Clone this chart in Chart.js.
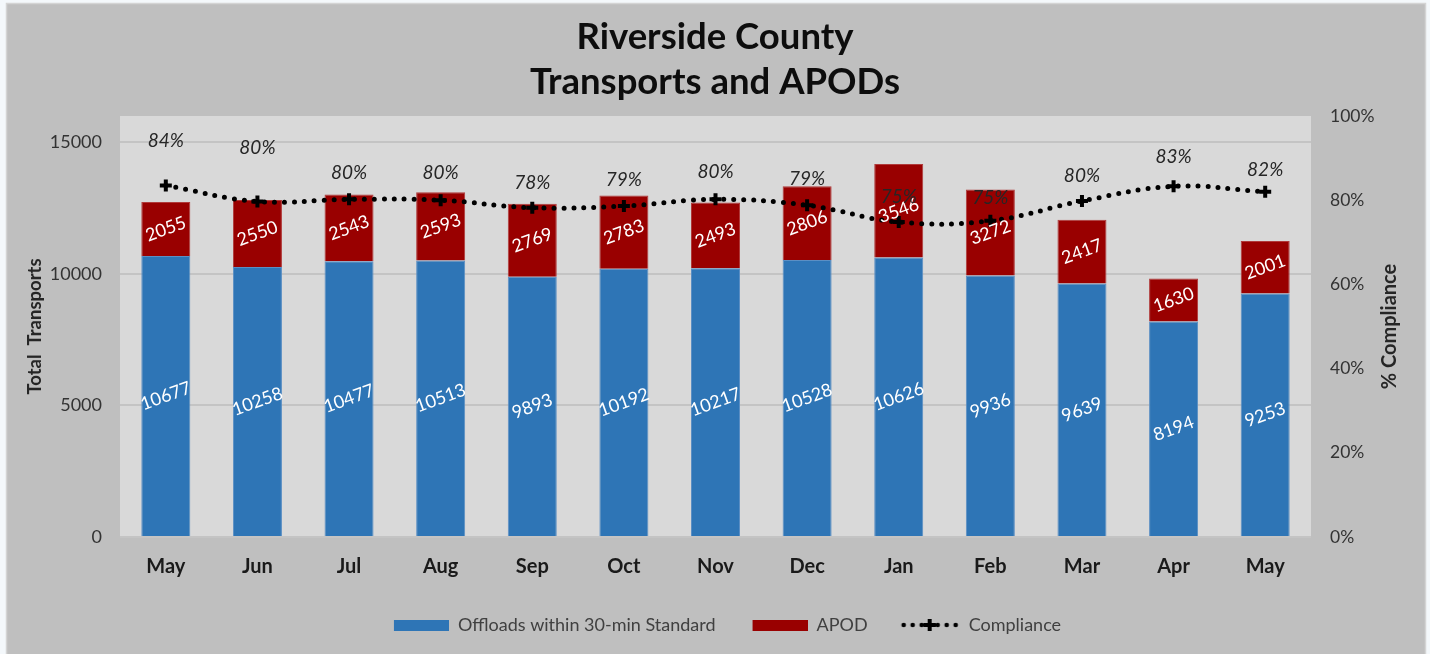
<!DOCTYPE html>
<html>
<head>
<meta charset="utf-8">
<script src="https://cdn.jsdelivr.net/npm/chart.js@4"></script>
<style>
  html, body { margin: 0; padding: 0; background: #f4f8fb; }
  #wrap { width: 1430px; height: 654px; }
</style>
</head>
<body>
<div id="wrap"><canvas id="chart" width="1430" height="654"></canvas></div>
<script>
// dados
const meses = ['May', 'Jun', 'Jul', 'Aug', 'Sep', 'Oct', 'Nov', 'Dec', 'Jan', 'Feb', 'Mar', 'Apr', 'May'];
const offloads = [10677, 10258, 10477, 10513, 9893, 10192, 10217, 10528, 10626, 9936, 9639, 8194, 9253];
const apod = [2055, 2550, 2543, 2593, 2769, 2783, 2493, 2806, 3546, 3272, 2417, 1630, 2001];
const compliance = [83.5, 79.7, 80.2, 80, 78.2, 78.6, 80.2, 78.8, 74.8, 75.1, 79.8, 83.3, 82];
const leftTicks = [0, 5000, 10000, 15000];

const FONT = 'Lato, Carlito, "Open Sans", sans-serif';
const ICON_W = 80;

// ícones da legenda (alinhados à direita, sobra à esquerda = espaço entre itens)
function iconeCaixa(cor, folga) {
    const c = document.createElement('canvas');
    c.width = ICON_W; c.height = 11;
    const g = c.getContext('2d');
    g.fillStyle = cor;
    g.fillRect(ICON_W - 55 - folga, 0, 55, 11);
    return c;
}
function iconeLinha() {
    const c = document.createElement('canvas');
    c.width = ICON_W; c.height = 14;
    const g = c.getContext('2d');
    const x0 = ICON_W - 60;
    g.fillStyle = '#000';
    [4, 13, 22, 38, 47, 56].forEach(x => { g.beginPath(); g.arc(x0 + x, 7, 2.3, 0, Math.PI * 2); g.fill(); });
    g.fillRect(x0 + 24, 5, 12, 4);
    g.fillRect(x0 + 28, 1, 4, 12);
    return c;
}
const legendIcons = [iconeCaixa('#2e75b6', 0), iconeCaixa('#990000', 0), iconeLinha()];

const fundo = {
    id: 'fundo',
    beforeDraw(chart) {
        const { ctx, chartArea: a } = chart;
        ctx.save();
        ctx.fillStyle = '#f4f8fb';
        ctx.fillRect(0, 0, chart.width, chart.height);
        ctx.fillStyle = '#bfbfbf';
        ctx.fillRect(6, 3, 1420, 651);
        ctx.strokeStyle = '#d4d4d4';
        ctx.lineWidth = 1.5;
        ctx.strokeRect(6.5, 3.5, 1419, 652);
        ctx.fillStyle = '#d9d9d9';
        ctx.fillRect(a.left, a.top, a.right - a.left, a.bottom - a.top);
        ctx.restore();
    }
};

const rotulos = {
    id: 'rotulos',
    afterDatasetsDraw(chart, args, opts) {
        const ctx = chart.ctx;
        ctx.save();
        // valores dentro das barras
        [0, 1].forEach(di => {
            const meta = chart.getDatasetMeta(di);
            meta.data.forEach((bar, i) => {
                const cy = (bar.y + bar.base) / 2;
                ctx.save();
                ctx.translate(bar.x, cy);
                ctx.rotate(-20 * Math.PI / 180);
                ctx.font = '18px ' + FONT;
                ctx.fillStyle = '#ffffff';
                ctx.textAlign = 'center';
                ctx.textBaseline = 'middle';
                ctx.fillText(chart.data.datasets[di].data[i], 0, 0);
                ctx.restore();
            });
        });
        // percentuais de compliance
        const meta = chart.getDatasetMeta(2);
        meta.data.forEach((pt, i) => {
            ctx.font = 'italic 19px ' + FONT;
            ctx.fillStyle = '#262626';
            ctx.textAlign = 'center';
            ctx.textBaseline = 'middle';
            ctx.fillText(Math.round(compliance[i]) + '%', pt.x, pt.y - opts.offsets[i]);
        });
        ctx.restore();
    },
    afterDraw(chart) {
        const { ctx, chartArea: a } = chart;
        ctx.save();
        ctx.translate(1390, (a.top + a.bottom) / 2);
        ctx.rotate(-Math.PI / 2);
        ctx.font = 'bold 20px ' + FONT;
        ctx.fillStyle = '#262626';
        ctx.textAlign = 'center';
        ctx.textBaseline = 'middle';
        ctx.fillText('% Compliance', 0, 0);
        ctx.restore();
    }
};

new Chart(document.getElementById('chart'), {
    data: {
        labels: meses,
        datasets: [
            {
                type: 'bar',
                label: 'Offloads within 30-min Standard',
                data: offloads,
                backgroundColor: '#2e75b6',
                borderColor: '#5b8fc4',
                borderWidth: 1,
                yAxisID: 'y',
                order: 2
            },
            {
                type: 'bar',
                label: 'APOD',
                data: apod,
                backgroundColor: '#990000',
                borderColor: '#b03a3a',
                borderWidth: 1,
                yAxisID: 'y',
                order: 2
            },
            {
                type: 'line',
                label: 'Compliance',
                data: compliance,
                yAxisID: 'y1',
                borderColor: '#000',
                borderWidth: 5,
                borderDash: [0, 10],
                borderCapStyle: 'round',
                tension: 0.4,
                pointStyle: 'cross',
                pointRadius: 6,
                pointBorderWidth: 4,
                pointBorderColor: '#000',
                pointBackgroundColor: '#000',
                order: 1
            }
        ]
    },
    options: {
        responsive: false,
        animation: false,
        layout: { padding: { left: 18, right: 18, top: 0, bottom: 10 } },
        datasets: { bar: { categoryPercentage: 1, barPercentage: 0.535 } },
        plugins: {
            title: {
                display: true,
                text: ['Riverside County', 'Transports and APODs'],
                font: { family: FONT, size: 36.5, weight: 'bold', lineHeight: 1.233 },
                color: '#0d0d0d',
                padding: { top: 15, bottom: 11 }
            },
            legend: {
                position: 'bottom',
                labels: {
                    usePointStyle: true,
                    pointStyleWidth: ICON_W,
                    padding: 12,
                    color: '#404040',
                    font: { family: FONT, size: 18 },
                    sort: (a, b) => a.datasetIndex - b.datasetIndex,
                    generateLabels: chart => Chart.defaults.plugins.legend.labels.generateLabels(chart)
                        .map(l => ({ ...l, pointStyle: legendIcons[l.datasetIndex] }))
                }
            },
            tooltip: { enabled: false },
            rotulos: { offsets: [45, 54, 26, 27, 25, 26, 27, 26, 25, 23, 25, 29, 22] }
        },
        scales: {
            x: {
                stacked: true,
                grid: { display: false, drawTicks: false },
                border: { display: false },
                ticks: { color: '#1a1a1a', font: { family: FONT, size: 20, weight: 'bold' }, padding: 18 },
                afterFit: s => { s.height = 67; }
            },
            y: {
                stacked: true,
                position: 'left',
                min: 0,
                max: 16000,
                afterBuildTicks: s => { s.ticks = leftTicks.map(v => ({ value: v })); },
                grid: { color: '#c4c4c4', lineWidth: 2, drawTicks: false },
                border: { display: false },
                ticks: { color: '#333', font: { family: FONT, size: 18 }, padding: 18, callback: v => String(v) },
                title: {
                    display: true,
                    text: 'Total  Transports',
                    color: '#262626',
                    font: { family: FONT, size: 18.5, weight: 'bold' },
                    padding: { top: 6, bottom: 0 }
                },
                afterFit: s => { s.width = 102; }
            },
            y1: {
                position: 'right',
                min: 0,
                max: 100,
                grid: { display: false, drawTicks: false },
                border: { display: false },
                ticks: { stepSize: 20, color: '#333', font: { family: FONT, size: 17.5 }, padding: 19, callback: v => v + '%' },
                afterFit: s => { s.width = 101; }
            }
        }
    },
    plugins: [fundo, rotulos]
});
</script>
</body>
</html>
